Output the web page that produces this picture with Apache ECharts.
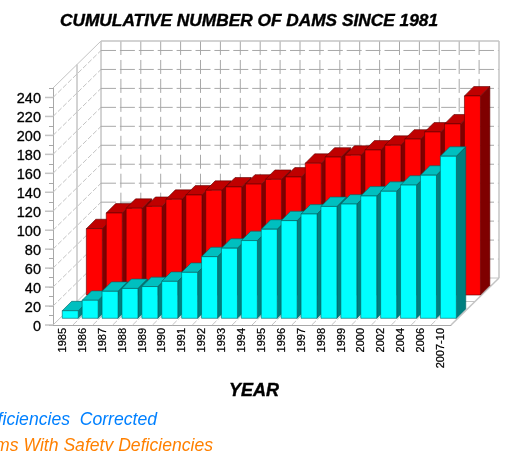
<!DOCTYPE html>
<html>
<head>
<meta charset="utf-8">
<style>
  html, body { margin: 0; padding: 0; background: #fff; overflow: hidden; }
  #view { width: 505px; height: 451px; }
</style>
<script src="https://cdn.jsdelivr.net/npm/echarts@6/dist/echarts.min.js"></script>
</head>
<body>
<div id="view"></div>
<script>
var years = ["1985", "1986", "1987", "1988", "1989", "1990", "1991", "1992", "1993", "1994",
  "1995", "1996", "1997", "1998", "1999", "2000", "2002", "2004", "2006", "2007-10"];
var correctedValues = [8, 19, 28.5, 31.5, 33.5, 39, 48.5, 65, 74, 82,
  94, 103, 110, 118, 120.5, 129, 134, 140.5, 151, 171];
var deficientValues = [70, 86.5, 91.5, 93.5, 101, 105.5, 110.5, 114, 117, 122,
  124.5, 139, 145.5, 147.5, 153, 158, 164.5, 172, 180.5, 210];
var yLevels = [0, 20, 40, 60, 80, 100, 120, 140, 160, 180, 200, 220, 240];

var slotWidth = 19.9;
var barWidth = 16;
var depthX = 48; // floor depth of the fake 3d box
var depthY = 47;
var gridLine = "#a8a8a8";
var wallLine = "#c4c4c4";

function line(x1, y1, x2, y2, color, width, dash) {
  return {
    type: "line",
    shape: { x1: x1, y1: y1, x2: x2, y2: y2 },
    style: { stroke: color, lineWidth: width, lineDash: dash || null, fill: null }
  };
}

function poly(points, fill, stroke) {
  return {
    type: "polygon",
    shape: { points: points },
    style: { fill: fill, stroke: stroke, lineWidth: 0.6 }
  };
}

// back wall, left wall and floor
function renderWalls(params, api) {
  var kids = [];
  var origin = api.coord([0, 0]);
  var left = origin[0] - slotWidth / 2;
  var bottom = origin[1];
  var top = api.coord([0, 250])[1];
  var right = left + slotWidth * years.length;

  yLevels.forEach(function (v) {
    var y = api.coord([0, v])[1];
    if (v > 0) {
      kids.push(line(left + depthX, y - depthY, right + depthX, y - depthY, gridLine, 1, [15, 3.9]));
      kids.push(line(left, y, left + depthX, y - depthY, wallLine, 1, [5, 2]));
    }
    kids.push(line(left - 8, y, left, y, wallLine, 1.5));
  });
  years.forEach(function (name, i) {
    if (i > 0) {
      var x = left + i * slotWidth;
      kids.push(line(x + depthX, top - depthY, x + depthX, bottom - depthY, gridLine, 1, [14, 4.96]));
      kids.push(line(x, bottom, x + depthX, bottom - depthY, wallLine, 1, [6, 2]));
    }
  });

  // box edges
  kids.push(line(left + depthX / 2, top - depthY / 2, left + depthX / 2, bottom - depthY / 2, gridLine, 1));
  kids.push(line(left + depthX / 2, bottom - depthY / 2, right + depthX / 2, bottom - depthY / 2, wallLine, 1));
  kids.push(line(left + depthX, top - depthY, left + depthX, bottom - depthY, gridLine, 1));
  kids.push(line(left + depthX, bottom - depthY, right + depthX, bottom - depthY, wallLine, 1));
  kids.push(line(left + depthX, top - depthY, right + depthX, top - depthY, wallLine, 1.5));
  kids.push(line(right + depthX, top - depthY, right + depthX, bottom - depthY, wallLine, 1.5));
  kids.push(line(left, top, left + depthX, top - depthY, wallLine, 1));
  kids.push(line(left, bottom, left + depthX, bottom - depthY, wallLine, 1));
  kids.push(line(right, bottom, right + depthX, bottom - depthY, wallLine, 1.5));
  return { type: "group", children: kids };
}

function bar3d(offX, offY, faceColor, topColor, sideColor, edgeColor) {
  return function (params, api) {
    var topPt = api.coord([api.value(0), api.value(1)]);
    var basePt = api.coord([api.value(0), 0]);
    var x0 = topPt[0] + offX - barWidth / 2;
    var x1 = x0 + barWidth;
    var yT = topPt[1] - offY;
    var yB = basePt[1] - offY;
    var dx = 9.4;
    var dy = 9.4;
    return {
      type: "group",
      children: [
        poly([[x1, yT], [x1 + dx, yT - dy], [x1 + dx, yB - dy], [x1, yB]], sideColor, edgeColor),
        poly([[x0, yT], [x0 + dx, yT - dy], [x1 + dx, yT - dy], [x1, yT]], topColor, edgeColor),
        poly([[x0, yT], [x1, yT], [x1, yB], [x0, yB]], faceColor, edgeColor)
      ]
    };
  };
}

function toPairs(values) {
  return values.map(function (v, i) { return [i, v]; });
}

var option = {
  animation: false,
  backgroundColor: "#fff",
  title: {
    text: "CUMULATIVE NUMBER OF DAMS SINCE 1981",
    left: 244,
    top: 8,
    textAlign: "center",
    textStyle: {
      fontFamily: "Liberation Sans",
      fontSize: 17.3,
      fontWeight: "bold",
      fontStyle: "italic",
      color: "#000",
      textBorderColor: "#000",
      textBorderWidth: 0.4
    }
  },
  grid: {
    left: 53,
    top: 88,
    width: slotWidth * years.length,
    height: 237
  },
  xAxis: {
    type: "category",
    data: years,
    name: "YEAR",
    nameLocation: "middle",
    nameGap: 57,
    nameTextStyle: {
      fontFamily: "Liberation Sans",
      fontSize: 18,
      fontWeight: "bold",
      fontStyle: "italic",
      color: "#000",
      textBorderColor: "#000",
      textBorderWidth: 0.4,
      padding: [0, 0, 0, 4]
    },
    axisLine: { lineStyle: { color: gridLine, width: 1 } },
    axisTick: { show: false },
    axisLabel: {
      interval: 0,
      rotate: 90,
      margin: 3,
      fontFamily: "Liberation Sans",
      fontSize: 11,
      color: "#000",
      textBorderColor: "#000",
      textBorderWidth: 0.25
    }
  },
  yAxis: {
    type: "value",
    min: 0,
    max: 250,
    interval: 10,
    splitLine: { show: false },
    axisLine: { show: true, lineStyle: { color: gridLine, width: 1 } },
    axisTick: { show: true, length: 4, lineStyle: { color: gridLine, width: 1 } },
    axisLabel: {
      margin: 12,
      verticalAlign: "top",
      lineHeight: 4,
      fontFamily: "Liberation Sans",
      fontSize: 14.5,
      color: "#000",
      textBorderColor: "#000",
      textBorderWidth: 0.3,
      formatter: function (v) { return v % 20 === 0 && v <= 240 ? String(v) : ""; }
    }
  },
  graphic: [
    {
      type: "text",
      right: 505 - 157,
      top: 411,
      style: {
        text: "Safety Deficiencies  Corrected",
        font: "italic 17.6px 'Liberation Sans'",
        fill: "#0080ff"
      }
    },
    {
      type: "text",
      right: 505 - 213,
      top: 437,
      style: {
        text: "Dams With Safety Deficiencies",
        font: "italic 17.6px 'Liberation Sans'",
        fill: "#ff8000"
      }
    }
  ],
  series: [
    {
      name: "walls",
      type: "custom",
      z: 1,
      silent: true,
      renderItem: renderWalls,
      data: [[0, 0]]
    },
    {
      name: "Dams With Safety Deficiencies",
      type: "custom",
      z: 2,
      renderItem: bar3d(31.4, 30, "#ff0000", "#bf0000", "#7f0000", "#600000"),
      encode: { x: 0, y: 1 },
      data: toPairs(deficientValues)
    },
    {
      name: "Deficiencies Corrected",
      type: "custom",
      z: 3,
      renderItem: bar3d(7.3, 6.7, "#00ffff", "#00bfbf", "#007f7f", "#006060"),
      encode: { x: 0, y: 1 },
      data: toPairs(correctedValues)
    }
  ]
};

echarts.init(document.getElementById("view")).setOption(option);
</script>
</body>
</html>
